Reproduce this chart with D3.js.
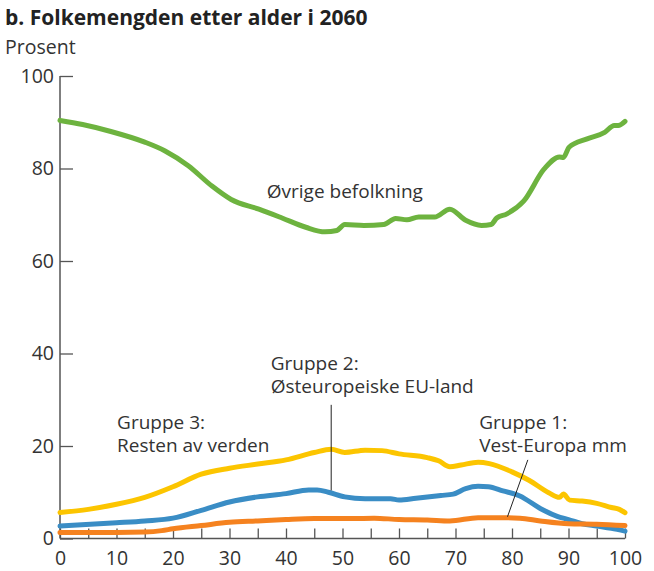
<!DOCTYPE html>
<html>
<head>
<meta charset="utf-8">
<script src="https://cdn.jsdelivr.net/npm/d3@7"></script>
<style>
  body { margin: 0; background: #fff; }
  text { font-family: "Open Sans", "Noto Sans", sans-serif; fill: #333; }
</style>
</head>
<body>
<svg id="chart" width="654" height="571"></svg>
<script>
// age (x) and percent (y)
var ovrigeAge = [0, 4, 9, 15, 18.6, 22.7, 26.9, 30.3, 35.2, 39.3, 43.5, 46.9, 49, 50.4, 53.8, 57.3, 59.4, 61.4, 63.5, 66.3, 69, 71.8, 74.6, 76.3, 77.3, 79.1, 82.1, 85.7, 88.4, 89.1, 90.1, 93.3, 96.4, 98.1, 98.8, 100];
var ovrigeVal = [90.4, 89.5, 88.0, 85.7, 83.8, 80.6, 76.2, 73.3, 71.2, 69.3, 67.3, 66.3, 66.6, 67.9, 67.7, 67.9, 69.2, 68.9, 69.5, 69.5, 71.2, 68.8, 67.7, 67.9, 69.3, 70.2, 73.0, 79.9, 82.5, 82.4, 84.6, 86.4, 87.8, 89.3, 89.3, 90.2];

var gruppe3Age = [0, 5, 10, 15, 20, 25, 30, 35, 40, 45, 48, 50.4, 54, 57, 60, 65, 67, 69, 71, 74, 76, 80, 83, 86.5, 88.4, 89.1, 90.2, 92.4, 95, 97.6, 99, 100];
var gruppe3Val = [5.6, 6.3, 7.4, 8.9, 11.2, 13.9, 15.2, 16.1, 17.0, 18.6, 19.3, 18.6, 19.1, 19.0, 18.3, 17.5, 16.8, 15.5, 15.9, 16.5, 16.2, 14.4, 12.6, 9.9, 8.9, 9.6, 8.3, 8.1, 7.6, 6.7, 6.3, 5.6];

var gruppe2Age = [0, 10, 15, 20, 25, 30, 35, 40, 44, 45.5, 47.5, 50.4, 54, 58.5, 60, 63, 67.4, 69.6, 71.8, 74, 75.8, 78.4, 81.4, 85, 88, 90, 92.4, 95, 97.6, 100];
var gruppe2Val = [2.7, 3.4, 3.8, 4.4, 6.1, 7.9, 9.0, 9.7, 10.5, 10.5, 10.0, 9.0, 8.6, 8.6, 8.3, 8.7, 9.3, 9.6, 10.8, 11.3, 11.2, 10.3, 9.2, 6.5, 4.8, 4.1, 3.2, 2.7, 2.2, 1.6];

var gruppe1Age = [0, 10, 15, 18, 20, 25, 30, 35, 40, 45, 50, 55.6, 60, 65, 69, 74, 77.7, 81.4, 85, 90, 95, 100];
var gruppe1Val = [1.3, 1.3, 1.4, 1.7, 2.1, 2.8, 3.5, 3.8, 4.1, 4.3, 4.3, 4.4, 4.1, 4.0, 3.8, 4.5, 4.5, 4.4, 3.8, 3.2, 3.1, 2.8];

var yTicks = [0, 20, 40, 60, 80, 100];
var xTicks = [0, 10, 20, 30, 40, 50, 60, 70, 80, 90, 100];
var xMinorTicks = d3.range(0, 101, 5);

var series = [
  { age: ovrigeAge, val: ovrigeVal, color: "#6db33f" },
  { age: gruppe3Age, val: gruppe3Val, color: "#fcc500" },
  { age: gruppe2Age, val: gruppe2Val, color: "#3a8dc5" },
  { age: gruppe1Age, val: gruppe1Val, color: "#f5821f" }
];

// labels: lines, age of left edge, value of first baseline
var labels = [
  { lines: ["Øvrige befolkning"], age: 36.6, val: 73.7 },
  { lines: ["Gruppe 2:", "Østeuropeiske EU-land"], age: 37.3, val: 36.4 },
  { lines: ["Gruppe 3:", "Resten av verden"], age: 10.1, val: 23.7 },
  { lines: ["Gruppe 1:", "Vest-Europa mm"], age: 74.2, val: 23.7 }
];
var leaders = [
  [[48, 28.9], [48, 10.4]],
  [[82.8, 17.0], [79.2, 4.7]]
];

var svg = d3.select("#chart");
var x = d3.scaleLinear().domain([0, 100]).range([60, 625]);
var y = d3.scaleLinear().domain([0, 100]).range([538.5, 76]);

// title
svg.append("text").attr("x", 5).attr("y", 25)
  .style("font-weight", "bold").style("font-size", "21px").style("fill", "#222")
  .text("b. Folkemengden etter alder i 2060");
svg.append("text").attr("x", 5).attr("y", 54)
  .style("font-size", "19.5px")
  .text("Prosent");

// y axis (ticks pointing inwards)
var yAxis = svg.append("g").attr("transform", "translate(" + x(0) + ",0)")
  .call(d3.axisRight(y).tickValues(yTicks).tickSize(13).tickFormat(d3.format("d")));
yAxis.select(".domain").remove();
yAxis.selectAll("line").attr("stroke", "#555").attr("stroke-width", 1.3);
yAxis.selectAll("text").attr("x", -6).attr("text-anchor", "end")
  .style("font-size", "19.5px").style("fill", "#333");
svg.append("line").attr("x1", x(0)).attr("x2", x(0)).attr("y1", y(100)).attr("y2", y(0))
  .attr("stroke", "#555").attr("stroke-width", 1.5);

// x axis (ticks every 5 pointing up)
var xAxis = svg.append("g").attr("transform", "translate(0," + y(0) + ")")
  .call(d3.axisTop(x).tickValues(xMinorTicks).tickSize(10).tickFormat(""));
xAxis.select(".domain").remove();
xAxis.selectAll("line").attr("stroke", "#555").attr("stroke-width", 1.3);
svg.append("g").attr("transform", "translate(0," + y(0) + ")")
  .call(d3.axisBottom(x).tickValues(xTicks).tickSize(0).tickPadding(13))
  .call(g => g.select(".domain").remove())
  .selectAll("text").style("font-size", "19.5px").style("fill", "#333");
svg.append("line").attr("x1", x(0)).attr("x2", x(100)).attr("y1", y(0)).attr("y2", y(0))
  .attr("stroke", "#555").attr("stroke-width", 1.5);

// lines
var line = d3.line()
  .x(d => x(d[0]))
  .y(d => y(d[1]))
  .curve(d3.curveMonotoneX);

series.forEach(function (s) {
  svg.append("path")
    .datum(s.age.map((a, i) => [a, s.val[i]]))
    .attr("d", line)
    .attr("fill", "none")
    .attr("stroke", s.color)
    .attr("stroke-width", 5)
    .attr("stroke-linejoin", "round")
    .attr("stroke-linecap", "round");
});

// leader lines
leaders.forEach(function (l) {
  svg.append("line")
    .attr("x1", x(l[0][0])).attr("y1", y(l[0][1]))
    .attr("x2", x(l[1][0])).attr("y2", y(l[1][1]))
    .attr("stroke", "#222").attr("stroke-width", 1);
});

// labels
labels.forEach(function (lb) {
  var t = svg.append("text")
    .attr("x", x(lb.age)).attr("y", y(lb.val))
    .style("font-size", "19px");
  lb.lines.forEach(function (s, i) {
    t.append("tspan").attr("x", x(lb.age)).attr("dy", i === 0 ? 0 : 23).text(s);
  });
});
</script>
</body>
</html>
